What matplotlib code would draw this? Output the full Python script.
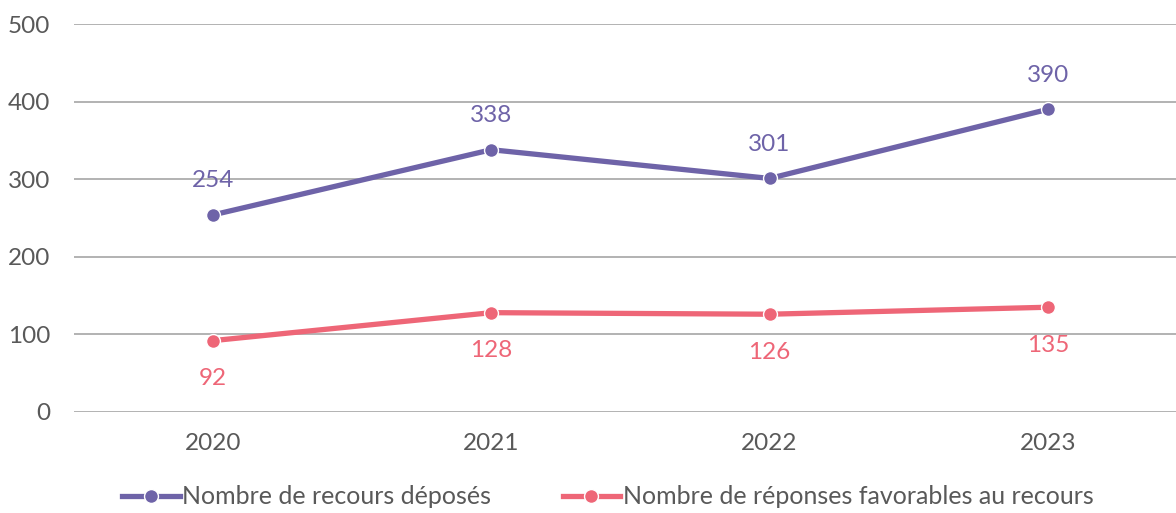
import matplotlib.pyplot as plt

years = ["2020", "2021", "2022", "2023"]
recours_deposes = [254, 338, 301, 390]
reponses_favorables = [92, 128, 126, 135]
series_labels = ["Nombre de recours déposés", "Nombre de réponses favorables au recours"]

purple = "#6E63A8"
pink = "#EE6677"
text_grey = "#595959"

plt.rcParams["font.family"] = ["Lato", "DejaVu Sans"]

fig = plt.figure(figsize=(11.76, 5.13), dpi=100)
ax = fig.add_axes([0.0629, 0.1969, 0.9464, 0.7563])

x = range(len(years))
line_a, = ax.plot(x, recours_deposes, color=purple, lw=3.8, marker="o", ms=10,
                  mec="white", mew=1.0, label=series_labels[0], zorder=3)
line_b, = ax.plot(x, reponses_favorables, color=pink, lw=3.8, marker="o", ms=10,
                  mec="white", mew=1.0, label=series_labels[1], zorder=3)

for xi, v in zip(x, recours_deposes):
    ax.annotate(str(v), (xi, v), xytext=(0, 17), textcoords="offset points",
                ha="center", va="bottom", color=purple, fontsize=17.5)
for xi, v in zip(x, reponses_favorables):
    ax.annotate(str(v), (xi, v), xytext=(0, -20), textcoords="offset points",
                ha="center", va="top", color=pink, fontsize=17.5)

ax.set_xlim(-0.5, len(years) - 0.5)
ax.set_ylim(0, 500)
ax.set_yticks(range(0, 501, 100))
ax.set_xticks(list(x))
ax.set_xticklabels(years)
ax.grid(axis="y", color="#A6A6A6", lw=1.2)
ax.set_axisbelow(True)
for s in ax.spines.values():
    s.set_visible(False)
ax.tick_params(length=0, labelsize=17.5, colors=text_grey, pad=15)
ax.tick_params(axis="y", pad=17)

fig.legend(handles=[line_a, line_b], loc="lower center", bbox_to_anchor=(0.517, -0.035),
           ncol=2, frameon=False, fontsize=18, labelcolor=text_grey,
           handlelength=2.3, handletextpad=0.1, columnspacing=2.85)

fig.savefig("out.png", dpi=100)
